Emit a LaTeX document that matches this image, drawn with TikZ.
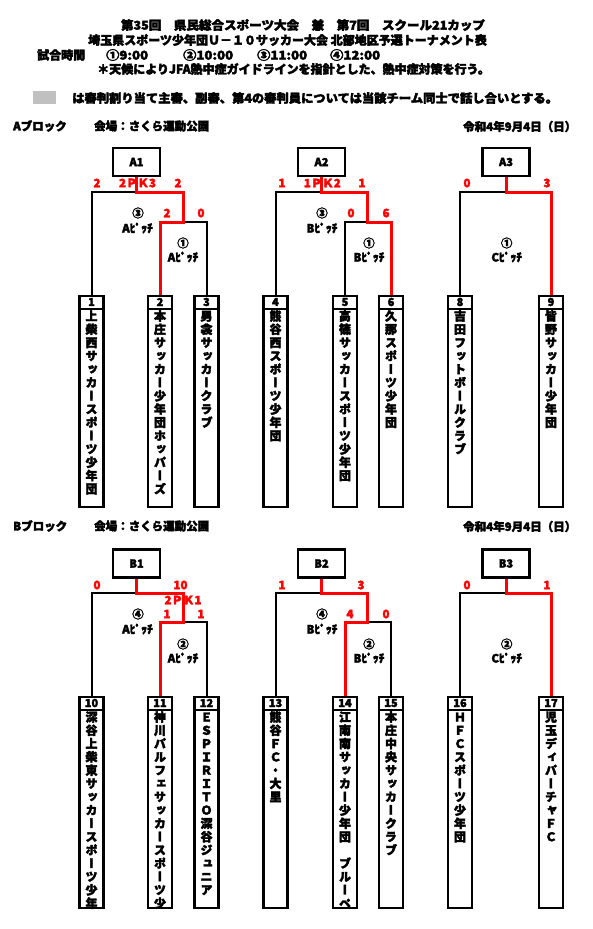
\documentclass[tikz,border=0pt]{standalone}
\usepackage{fontspec}
\usepackage{graphicx}
\setmainfont{Noto Sans CJK JP}[UprightFeatures={FakeBold=3},BoldFeatures={FakeBold=3}]
\newfontfamily\vjp{Noto Sans CJK JP}[RawFeature=+vert,UprightFeatures={FakeBold=3},BoldFeatures={FakeBold=3}]
\usetikzlibrary{calc}
\definecolor{wred}{RGB}{255,0,0}
\definecolor{sgray}{RGB}{192,192,192}
\tikzset{
  blk/.style={draw=black, line width=2pt},
  win/.style={draw=wred, line width=3pt},
  boxline/.style={draw=black, line width=2.2pt},
  matchbox/.style={draw, line width=2.2pt, minimum width=47pt, minimum height=28pt, inner sep=0pt, font=\bfseries\fontsize{11}{11}\selectfont},
  teambox/.style={draw, line width=2.3pt, minimum width=24pt, minimum height=211pt, anchor=north, inner sep=0pt},
  numtxt/.style={font=\bfseries\fontsize{11}{11}\selectfont, inner sep=0pt},
  score/.style={text=wred, font=\bfseries\fontsize{11.5}{12}\selectfont, inner sep=0pt},
  pitch/.style={font=\bfseries\fontsize{11.5}{12}\selectfont, inner sep=0pt},
  vch/.style={font=\vjp\bfseries\fontsize{12}{12}\selectfont, inner sep=0pt, text height=10pt, text depth=2pt},
  head/.style={font=\bfseries\fontsize{12}{12}\selectfont, inner sep=0pt},
  sub/.style={font=\bfseries\fontsize{11.5}{12}\selectfont, inner sep=0pt, anchor=west},
}
\newcommand\teamcol[5]{%
  \node[teambox] (#1) at (#2,#3) {};
  \node[numtxt] (#1n) at ($(#1.north)+(0,7)$) {#4};
  \draw[boxline] ($(#1.north west)+(0,14)$) -- ($(#1.north east)+(0,14)$);
  \begin{scope}
    \clip (#1.north west) rectangle (#1.south east);
    \foreach \c [count=\i from 0] in {#5} \node[vch] (#1c\i) at (#2, {#3+21.5+\i*13.3}) {\c};
  \end{scope}
}
\begin{document}
\begin{tikzpicture}[x=1pt,y=-1pt]
\useasboundingbox[fill=white] (0,0) rectangle (593,929);

% ---------- header ----------
\node[head] (h1) at (303,25) {\scalebox{1.045}[1]{第35回　県民総合スポーツ大会　兼　第7回　スクール21カップ}};
\node[head] (h2) at (287.5,40) {埼玉県スポーツ少年団Ｕ－１０サッカー大会 北部地区予選トーナメント表};
\node[head, anchor=west] (h3) at (37,55) {試合時間};
\node[head, anchor=west] (t1h) at (106,55) {\scalebox{1.1}[1]{①9:00}};
\node[head, anchor=west] (t2h) at (183,55) {\scalebox{1.1}[1]{②10:00}};
\node[head, anchor=west] (t3h) at (257,55) {\scalebox{1.1}[1]{③11:00}};
\node[head, anchor=west] (t4h) at (330,55) {\scalebox{1.1}[1]{④12:00}};
\node[head, anchor=west] (h4) at (97,69) {＊天候によりJFA熱中症ガイドラインを指針とした、熱中症対策を行う。};
\node[fill=sgray, minimum width=23pt, minimum height=13pt, inner sep=0pt, anchor=north west] (gbox) at (33,91) {};
\node[head, anchor=west] (h5) at (72,98) {\scalebox{1.025}[1]{は審判割り当て主審、副審、第4の審判員については当該チーム同士で話し合いとする。}};

% ---------- A block ----------
\node[sub] (ablk) at (13,126) {Aブロック};
\node[sub] (aven) at (94,126) {会場：さくら運動公園};
\node[sub] (adate) at (463,126.5) {令和4年9月4日（日）};

\node[matchbox] (A1) at (136.5,162) {A1};
\node[matchbox] (A2) at (321.5,162) {A2};
\node[matchbox] (A3) at (506,162) {A3};

\teamcol{t1}{91.5}{295}{1}{上,柴,西,サ,ッ,カ,ー,ス,ポ,ー,ツ,少,年,団}
\teamcol{t2}{160}{295}{2}{本,庄,サ,ッ,カ,ー,少,年,団,ホ,ッ,パ,ー,ズ}
\teamcol{t3}{206.5}{295}{3}{男,衾,サ,ッ,カ,ー,ク,ラ,ブ}
\teamcol{t4}{275.5}{295}{4}{熊,谷,西,ス,ポ,ー,ツ,少,年,団}
\teamcol{t5}{345}{295}{5}{高,篠,サ,ッ,カ,ー,ス,ポ,ー,ツ,少,年,団}
\teamcol{t6}{391}{295}{6}{久,那,ス,ポ,ー,ツ,少,年,団}
\teamcol{t8}{460}{295}{8}{吉,田,フ,ッ,ト,ボ,ー,ル,ク,ラ,ブ}
\teamcol{t9}{551}{295}{9}{皆,野,サ,ッ,カ,ー,少,年,団}

\coordinate (a1m) at (136.5,192);
\coordinate (a1r) at (183,192);
\coordinate (a1s) at (183,222);
\coordinate (a2m) at (321.5,192);
\coordinate (a2r) at (367,192);
\coordinate (a2s) at (367,222);
\coordinate (a3m) at (506,192);

\draw[blk] (t1.north) |- (a1m);
\draw[blk] (a1s) -| (t3.north);
\draw[blk] (t4.north) |- (a2m);
\draw[blk] (a2s) -| (t5.north);
\draw[blk] (t8.north) |- (a3m);
\draw[win] (A1.south) -- (a1m) -- (a1r) -- (a1s) -| (t2.north);
\draw[win] (A2.south) -- (a2m) -- (a2r) -- (a2s) -| (t6.north);
\draw[win] (A3.south) -- (a3m) -| (t9.north);

\node[score] (sa1) at (97,183) {2};
\node[score] (sa2) at (137.5,183) {2ＰＫ3};
\node[score] (sa3) at (178,183) {2};
\node[score] (sa4) at (167,213) {2};
\node[score] (sa5) at (201,213) {0};
\node[score] (sa6) at (282,183) {1};
\node[score] (sa7) at (322.3,183) {1ＰＫ2};
\node[score] (sa8) at (362,183) {1};
\node[score] (sa9) at (351,213) {0};
\node[score] (sa10) at (386,213) {6};
\node[score] (sa11) at (467,183) {0};
\node[score] (sa12) at (547,183) {3};

\node[pitch] (pa1) at (138,213) {③};
\node[pitch] (pa2) at (137.5,228) {Aﾋﾟｯﾁ};
\node[pitch] (pa3) at (183,243) {①};
\node[pitch] (pa4) at (183,257) {Aﾋﾟｯﾁ};
\node[pitch] (pa5) at (322,213) {③};
\node[pitch] (pa6) at (322,228) {Bﾋﾟｯﾁ};
\node[pitch] (pa7) at (369,243) {①};
\node[pitch] (pa8) at (369,257) {Bﾋﾟｯﾁ};
\node[pitch] (pa9) at (506.7,243) {①};
\node[pitch] (pa10) at (506.7,257) {Cﾋﾟｯﾁ};

% ---------- B block ----------
\node[sub] (bblk) at (13,526) {Bブロック};
\node[sub] (bven) at (94,526) {会場：さくら運動公園};
\node[sub] (bdate) at (463,526.5) {令和4年9月4日（日）};

\node[matchbox] (B1) at (136.5,563.5) {B1};
\node[matchbox] (B2) at (321.5,563.5) {B2};
\node[matchbox] (B3) at (506,563.5) {B3};

\teamcol{t10}{91.5}{696}{10}{深,谷,上,柴,東,サ,ッ,カ,ー,ス,ポ,ー,ツ,少,年,団}
\teamcol{t11}{160}{696}{11}{神,川,パ,ル,フ,ェ,サ,ッ,カ,ー,ス,ポ,ー,ツ,少,年,団}
\teamcol{t12}{206.5}{696}{12}{Ｅ,Ｓ,Ｐ,Ｉ,Ｒ,Ｉ,Ｔ,Ｏ,深,谷,ジ,ュ,ニ,ア}
\teamcol{t13}{275.5}{696}{13}{熊,谷,Ｆ,Ｃ,・,大,里}
\teamcol{t14}{345}{696}{14}{江,南,南,サ,ッ,カ,ー,少,年,団,　,ブ,ル,ー,ペ,ガ,サ,ス}
\teamcol{t15}{391}{696}{15}{本,庄,中,央,サ,ッ,カ,ー,ク,ラ,ブ}
\teamcol{t16}{460}{696}{16}{Ｈ,Ｆ,Ｃ,ス,ポ,ー,ツ,少,年,団}
\teamcol{t17}{551}{696}{17}{児,玉,デ,ィ,パ,ー,チ,ャ,Ｆ,Ｃ}

\coordinate (b1m) at (136.5,593);
\coordinate (b1r) at (183,593);
\coordinate (b1s) at (183,622);
\coordinate (b2m) at (321.5,593);
\coordinate (b2r) at (367,593);
\coordinate (b2s) at (367,622);
\coordinate (b3m) at (506,593);

\draw[blk] (t10.north) |- (b1m);
\draw[blk] (b1s) -| (t12.north);
\draw[blk] (t13.north) |- (b2m);
\draw[blk] (b2s) -| (t15.north);
\draw[blk] (t16.north) |- (b3m);
\draw[win] (B1.south) -- (b1m) -- (b1r) -- (b1s) -| (t11.north);
\draw[win] (B2.south) -- (b2m) -- (b2r) -- (b2s) -| (t14.north);
\draw[win] (B3.south) -- (b3m) -| (t17.north);

\node[score] (sb1) at (97,585) {0};
\node[score] (sb2) at (180.5,585) {10};
\node[score] (sb3) at (183,600) {2ＰＫ1};
\node[score] (sb4) at (167,614) {1};
\node[score] (sb5) at (201,614) {1};
\node[score] (sb6) at (282,585) {1};
\node[score] (sb7) at (361,585) {3};
\node[score] (sb8) at (350,614) {4};
\node[score] (sb9) at (386,614) {0};
\node[score] (sb10) at (467,585) {0};
\node[score] (sb11) at (547,585) {1};

\node[pitch] (pb1) at (138,614) {④};
\node[pitch] (pb2) at (137.5,629) {Aﾋﾟｯﾁ};
\node[pitch] (pb3) at (183,644) {②};
\node[pitch] (pb4) at (183,658) {Aﾋﾟｯﾁ};
\node[pitch] (pb5) at (322,614) {④};
\node[pitch] (pb6) at (322,629) {Bﾋﾟｯﾁ};
\node[pitch] (pb7) at (369,644) {②};
\node[pitch] (pb8) at (369,658) {Bﾋﾟｯﾁ};
\node[pitch] (pb9) at (506.7,644) {②};
\node[pitch] (pb10) at (506.7,658) {Cﾋﾟｯﾁ};
\end{tikzpicture}
\end{document}
